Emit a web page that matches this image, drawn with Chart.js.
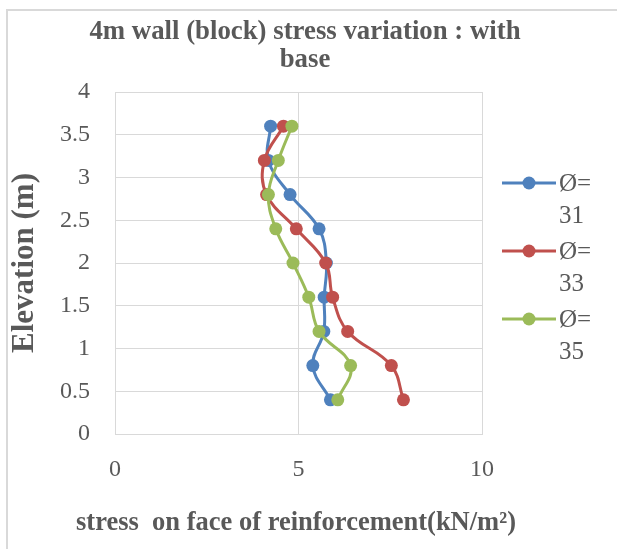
<!DOCTYPE html>
<html><head><meta charset="utf-8">
<script src="https://cdn.jsdelivr.net/npm/chart.js@4/dist/chart.umd.min.js"></script>
<style>html,body{margin:0;padding:0;background:#fff;overflow:hidden}</style>
</head><body>
<canvas id="c" width="617" height="549"></canvas>
<script>
const titleLines = ['4m wall (block) stress variation : with', 'base'];
const xAxisTitle = 'stress  on face of reinforcement(kN/m²)';
const yAxisTitle = 'Elevation (m)';
const elevations = [3.6, 3.2, 2.8, 2.4, 2.0, 1.6, 1.2, 0.8, 0.4];
const stressPhi31 = [4.24, 4.18, 4.77, 5.56, 5.76, 5.70, 5.69, 5.39, 5.87];
const stressPhi33 = [4.59, 4.07, 4.13, 4.94, 5.74, 5.93, 6.34, 7.53, 7.86];
const stressPhi35 = [4.82, 4.45, 4.18, 4.38, 4.85, 5.28, 5.56, 6.42, 6.07];
const seriesLabels = [['Ø=', '31'], ['Ø=', '33'], ['Ø=', '35']];
const seriesColors = ['#4F81BD', '#C0504D', '#9BBB59'];
const xTickValues = [0, 5, 10];
const yTickValues = [0, 0.5, 1, 1.5, 2, 2.5, 3, 3.5, 4];

const FONT = "'Liberation Serif', 'Times New Roman', serif";
const TXT = '#595959';
const GRID = '#d9d9d9';

function pts(xs) { return xs.map((x, i) => ({x: x, y: elevations[i]})); }
const seriesData = [stressPhi31, stressPhi33, stressPhi35];

const datasets = seriesData.map((d, i) => ({
  label: seriesLabels[i].join(' '),
  data: pts(d),
  showLine: true,
  tension: 0.4,
  borderColor: seriesColors[i],
  backgroundColor: seriesColors[i],
  borderWidth: 3,
  pointRadius: 6.5,
  pointHoverRadius: 6.5,
  pointBorderWidth: 0,
  pointBackgroundColor: seriesColors[i],
  order: 3 - i,
  clip: false
}));

const framePlugin = {
  id: 'frame',
  beforeDraw(chart) {
    const ctx = chart.ctx;
    ctx.save();
    ctx.fillStyle = '#fff';
    ctx.fillRect(0, 0, chart.width, chart.height);
    ctx.strokeStyle = GRID;
    ctx.lineWidth = 2;
    ctx.strokeRect(7, 10, 900, 900);
    ctx.restore();
  },
  afterDraw(chart) {
    const ctx = chart.ctx;
    const area = chart.chartArea;
    ctx.save();
    ctx.fillStyle = TXT;
    ctx.font = "bold 26.8px " + FONT;
    ctx.textAlign = 'center';
    ctx.textBaseline = 'middle';
    titleLines.forEach((t, i) => ctx.fillText(t, 305, 32 + i * 28));
    // x axis title (drawn here so it is not squeezed to the plot width)
    ctx.font = "bold 26.5px " + FONT;
    ctx.fillText(xAxisTitle, 296, 523);
    seriesLabels.forEach((lab, i) => {
      const y = 183 + i * 68;
      ctx.strokeStyle = seriesColors[i];
      ctx.lineWidth = 3;
      ctx.beginPath();
      ctx.moveTo(502, y);
      ctx.lineTo(556, y);
      ctx.stroke();
      ctx.fillStyle = seriesColors[i];
      ctx.beginPath();
      ctx.arc(529, y, 6.5, 0, Math.PI * 2);
      ctx.fill();
      ctx.fillStyle = TXT;
      ctx.font = "25px " + FONT;
      ctx.textAlign = 'left';
      ctx.textBaseline = 'middle';
      ctx.fillText(lab[0], 559, y + 1);
      ctx.fillText(lab[1], 559, y + 33);
    });
    ctx.restore();
  }
};

new Chart(document.getElementById('c'), {
  type: 'scatter',
  data: { datasets: datasets },
  options: {
    responsive: false,
    animation: false,
    events: [],
    layout: { padding: { top: 92, right: 135, bottom: 0, left: 0 } },
    plugins: { legend: { display: false }, title: { display: false }, tooltip: { enabled: false } },
    scales: {
      x: {
        type: 'linear', min: 0, max: 10,
        afterBuildTicks: s => { s.ticks = xTickValues.map(v => ({value: v})); },
        afterFit: s => { s.height = 549 - 434; },
        ticks: { color: TXT, font: { family: FONT, size: 24 }, padding: 21, callback: v => String(v), maxRotation: 0 },
        grid: { color: GRID, lineWidth: 1, drawTicks: false },
        border: { color: GRID, width: 1 },
        title: { display: false }
      },
      y: {
        type: 'linear', min: 0, max: 4,
        afterBuildTicks: s => { s.ticks = yTickValues.map(v => ({value: v})); },
        afterFit: s => { s.width = 115; },
        ticks: { color: TXT, font: { family: FONT, size: 24 }, padding: 25, callback: v => String(v) },
        grid: { color: GRID, lineWidth: 1, drawTicks: false },
        border: { color: GRID, width: 1 },
        title: { display: true, text: yAxisTitle, color: TXT, font: { family: FONT, size: 31, weight: 'bold' }, padding: { top: 6, bottom: 0 } }
      }
    }
  },
  plugins: [framePlugin]
});
</script>
</body></html>
